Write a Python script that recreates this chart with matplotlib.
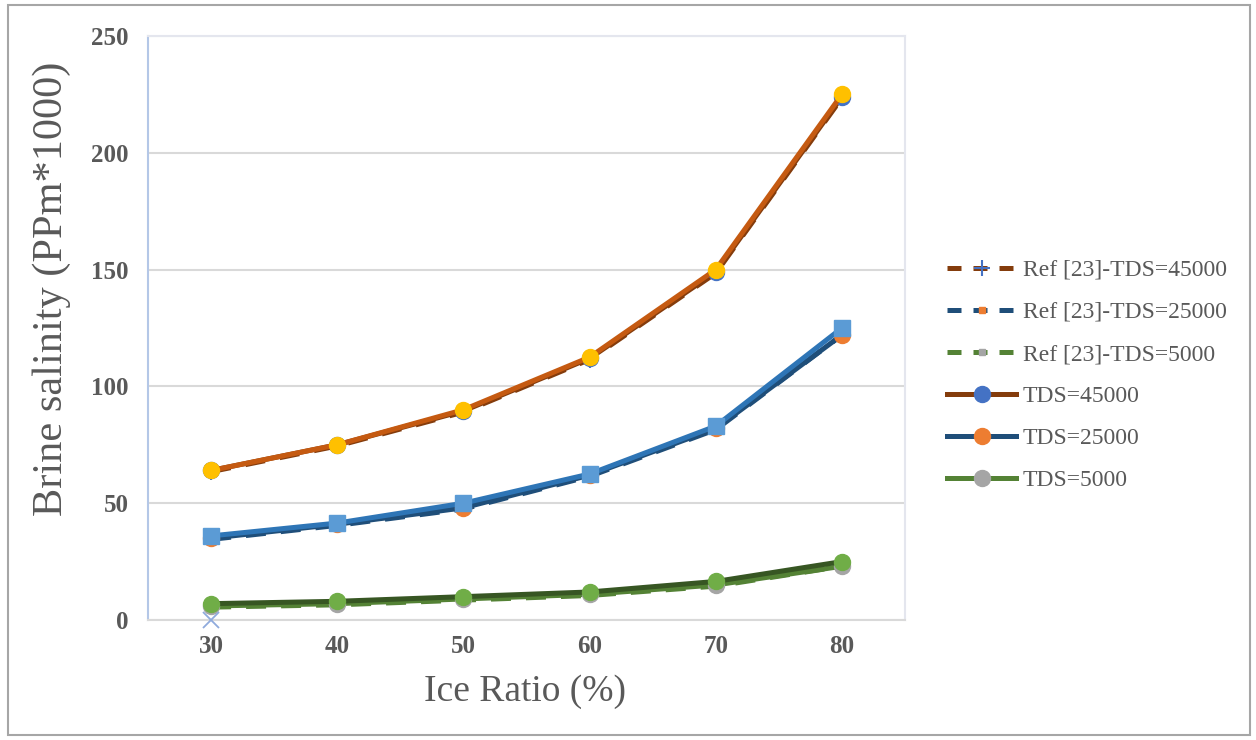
import matplotlib.pyplot as plt
import matplotlib.patches as mpatches

plt.rcParams['font.family'] = ['Liberation Serif', 'DejaVu Serif']

# ice ratio (%) on the category axis
ice_ratio = [30, 40, 50, 60, 70, 80]

# reference data, Ref [23]
ref_45000 = [63.5, 74.5, 89, 111.5, 148.5, 223.5]
ref_25000 = [34.5, 40.5, 47.5, 61.5, 81.5, 122]
ref_5000 = [5.5, 6.5, 8.5, 10.5, 14.5, 23]

# present results
tds_45000 = [64, 75, 89.5, 112, 149, 224]
tds_25000 = [35, 41, 48, 62, 82, 122]
tds_5000 = [6, 7, 9, 11, 15, 23]

# fitted curves drawn over the results (not in legend)
fit_45000 = [64, 75, 90, 112.5, 150, 225]
fit_25000 = [36, 41.5, 50, 62.5, 83, 125]
fit_5000 = [7, 8, 10, 12, 16.5, 25]

# stray point at the origin
extra_x = [30]
extra_y = [0]

labels = ['Ref [23]-TDS=45000', 'Ref [23]-TDS=25000', 'Ref [23]-TDS=5000',
          'TDS=45000', 'TDS=25000', 'TDS=5000']
y_ticks = [0, 50, 100, 150, 200, 250]

brown = '#843C0C'
navy = '#1F4E79'
green = '#548235'
grey_txt = '#595959'

fig = plt.figure(figsize=(12.56, 7.4), dpi=100)
ax = fig.add_axes([148 / 1256, 120 / 740, 757 / 1256, 584 / 740])

dash = (4, 3)
lw = 3.6
ms = 11.5

# Ref series (dashed)
ax.plot(ice_ratio, ref_45000, color=brown, lw=lw, dashes=dash, marker='+',
        ms=ms, mec='#4472C4', mew=1.5, label=labels[0], zorder=2)
ax.plot(ice_ratio, ref_25000, color=navy, lw=lw, dashes=dash, marker='s',
        ms=5, mfc='#ED7D31', mec='#ED7D31', label=labels[1], zorder=2)
ax.plot(ice_ratio, ref_5000, color=green, lw=lw, dashes=dash, marker='s',
        ms=5, mfc='#A5A5A5', mec='#A5A5A5', label=labels[2], zorder=2)

# TDS series (solid)
ax.plot(ice_ratio, tds_45000, color=brown, lw=lw, marker='o', ms=ms,
        mfc='#4472C4', mec='#4472C4', label=labels[3], zorder=3)
ax.plot(ice_ratio, tds_25000, color=navy, lw=lw, marker='o', ms=ms,
        mfc='#ED7D31', mec='#ED7D31', label=labels[4], zorder=3)
ax.plot(ice_ratio, tds_5000, color=green, lw=lw, marker='o', ms=ms,
        mfc='#A5A5A5', mec='#A5A5A5', label=labels[5], zorder=3)

# fitted curves on top
ax.plot(ice_ratio, fit_45000, color='#C55A11', lw=lw, marker='o', ms=ms,
        mfc='#FFC000', mec='#FFC000', zorder=4)
ax.plot(ice_ratio, fit_25000, color='#2E75B6', lw=lw, marker='s', ms=ms,
        mfc='#5B9BD5', mec='#5B9BD5', zorder=4)
ax.plot(ice_ratio, fit_5000, color='#375623', lw=lw, marker='o', ms=ms,
        mfc='#70AD47', mec='#70AD47', zorder=4)
ax.plot(extra_x, extra_y, ls='none', marker='x', ms=11, mec='#8FAADC',
        mew=1.3, zorder=5, clip_on=False)

ax.set_xlim(25, 85)
ax.set_ylim(0, 250)
ax.set_xticks(ice_ratio)
ax.set_yticks(y_ticks)
ax.grid(axis='y', color='#D9D9D9', lw=1.5, zorder=0)
ax.set_axisbelow(True)
ax.tick_params(length=0, labelsize=18, colors=grey_txt)
ax.tick_params(axis='y', pad=14)
ax.tick_params(axis='x', pad=11)
for t in ax.get_xticklabels() + ax.get_yticklabels():
    t.set_fontweight('bold')

for side in ['top', 'right']:
    ax.spines[side].set_color('#E4E6EE')
ax.spines['left'].set_color('#B4C7E7')
ax.spines['bottom'].set_color('#D9D9D9')
for s in ax.spines.values():
    s.set_linewidth(1.5)

ax.set_xlabel('Ice Ratio (%)', fontsize=27, color=grey_txt)
ax.set_ylabel('Brine salinity (PPm*1000)', fontsize=30.5, color=grey_txt)
ax.xaxis.set_label_coords(0.498, -0.123)
ax.xaxis.label.set_va('center')
ax.yaxis.set_label_coords(-0.127, 0.567)
ax.yaxis.label.set_va('center')

leg = ax.legend(loc='center left', bbox_to_anchor=(1.028, 0.419), frameon=False,
                fontsize=17, handlelength=2.9, labelspacing=0.87,
                handletextpad=0.3, labelcolor=grey_txt)
# shorter dashes in the legend keys
for h in leg.get_lines()[:3]:
    h.set_dashes((2.8, 2.4))

# outer chart border
fig.patches.append(mpatches.Rectangle((8 / 1256, 5 / 740), 1242 / 1256, 730 / 740,
                                      transform=fig.transFigure, fill=False,
                                      edgecolor='#A6A6A6', lw=1.5))

fig.savefig('out.png', dpi=100)
